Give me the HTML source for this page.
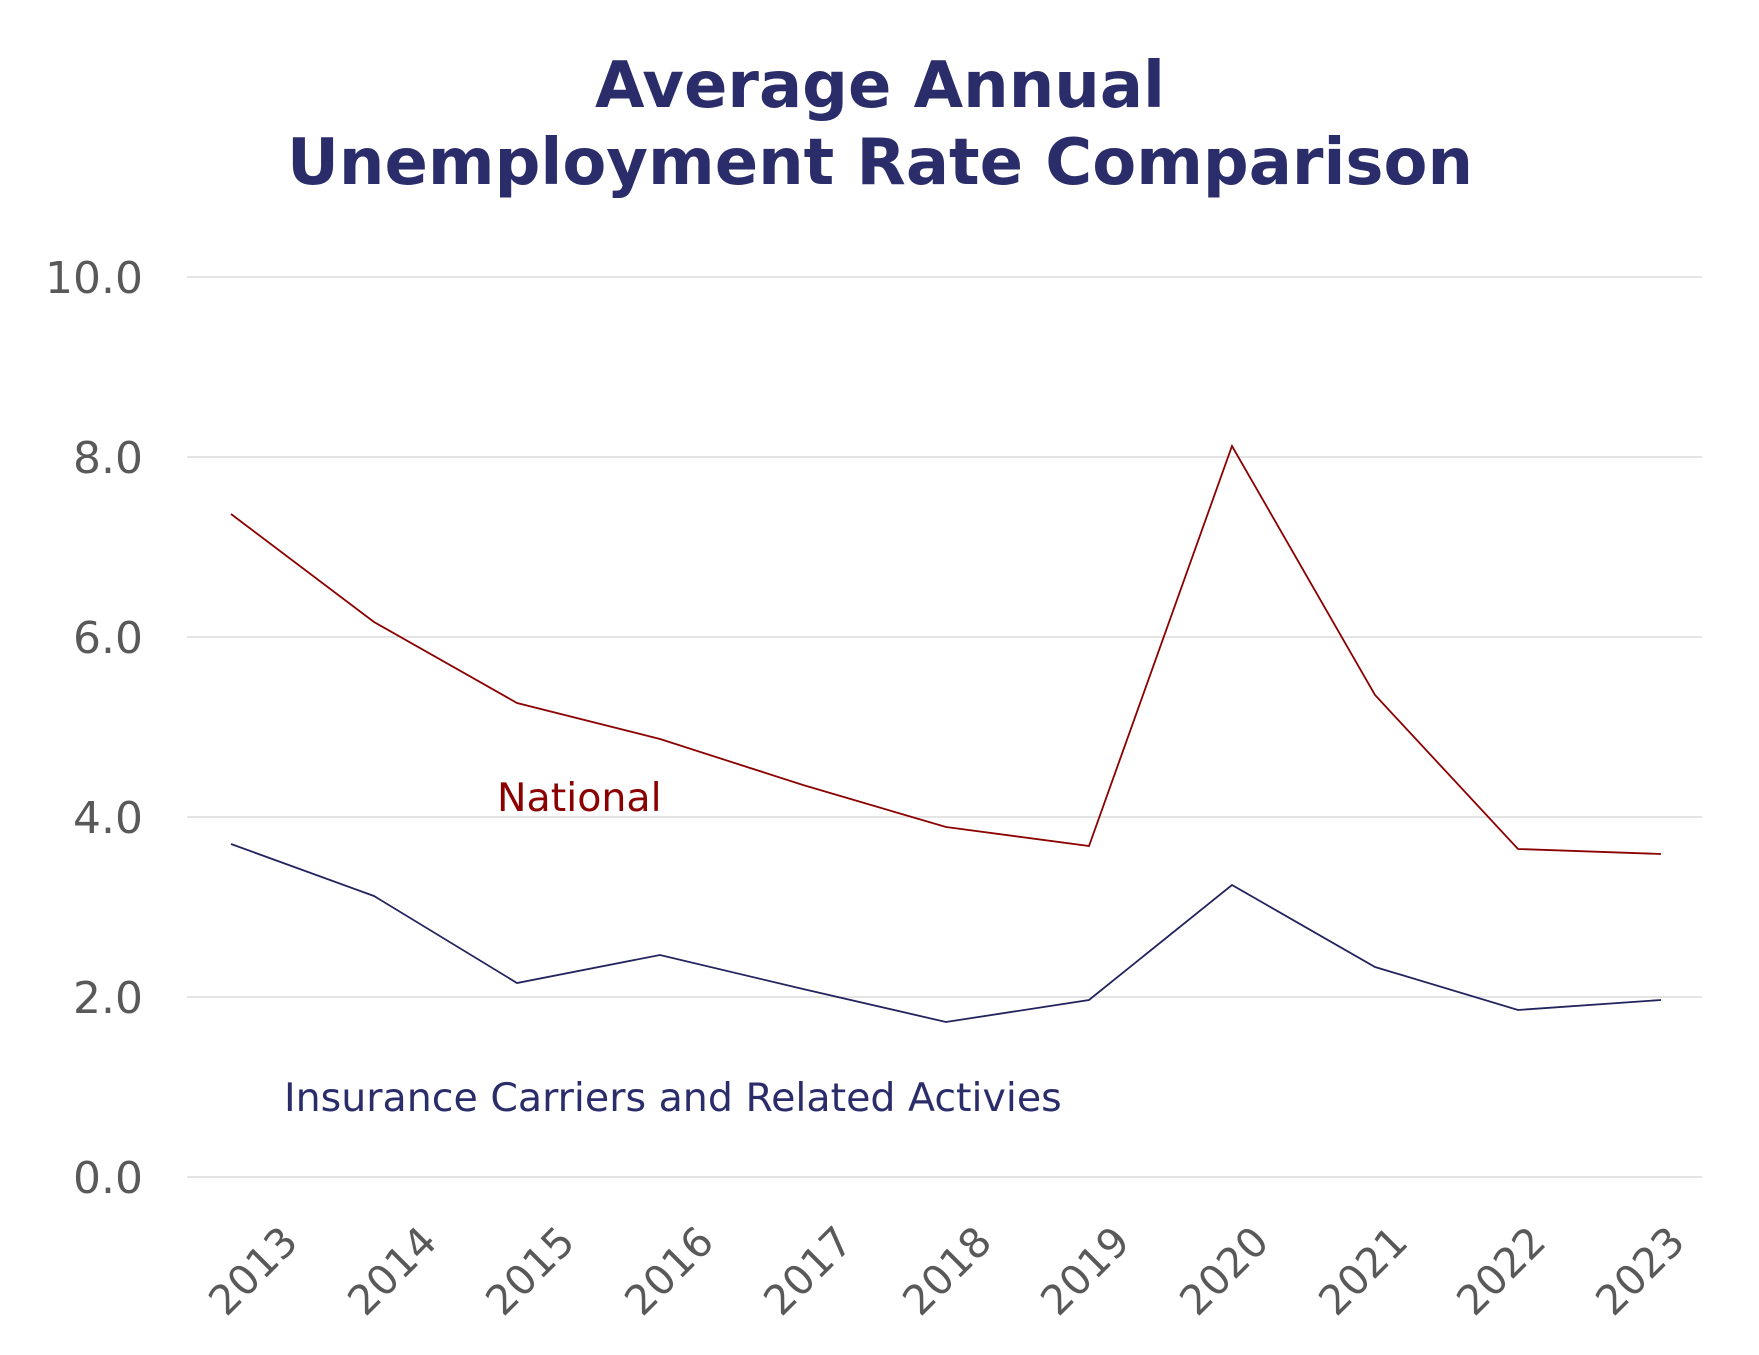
<!DOCTYPE html>
<html><head><meta charset="utf-8"><style>
html,body{margin:0;padding:0;background:#fff;}
svg{display:block;}
</style></head><body>
<svg width="1759" height="1355" viewBox="0 0 1759 1355" xmlns="http://www.w3.org/2000/svg" font-family="'DejaVu Sans', Verdana, sans-serif">
<text x="880" y="107" text-anchor="middle" font-size="64" font-weight="bold" fill="#2b2d6b">Average Annual</text>
<text x="880" y="184" text-anchor="middle" font-size="64" font-weight="bold" fill="#2b2d6b">Unemployment Rate Comparison</text>
<g stroke="#dcdcdc" stroke-width="1.5">
<line x1="187" x2="1702" y1="277" y2="277"/>
<line x1="187" x2="1702" y1="457" y2="457"/>
<line x1="187" x2="1702" y1="637" y2="637"/>
<line x1="187" x2="1702" y1="817" y2="817"/>
<line x1="187" x2="1702" y1="997" y2="997"/>
<line x1="187" x2="1702" y1="1177" y2="1177"/>
</g>
<g font-size="44" fill="#595959" text-anchor="end">
<text x="143" y="293">10.0</text>
<text x="143" y="473">8.0</text>
<text x="143" y="653">6.0</text>
<text x="143" y="833">4.0</text>
<text x="143" y="1013">2.0</text>
<text x="143" y="1193">0.0</text>
</g>
<g font-size="41" fill="#595959" text-anchor="end">
<text transform="translate(300,1244) rotate(-45)">2013</text>
<text transform="translate(439,1244) rotate(-45)">2014</text>
<text transform="translate(577,1244) rotate(-45)">2015</text>
<text transform="translate(716,1244) rotate(-45)">2016</text>
<text transform="translate(855,1244) rotate(-45)">2017</text>
<text transform="translate(994,1244) rotate(-45)">2018</text>
<text transform="translate(1132,1244) rotate(-45)">2019</text>
<text transform="translate(1271,1244) rotate(-45)">2020</text>
<text transform="translate(1410,1244) rotate(-45)">2021</text>
<text transform="translate(1548,1244) rotate(-45)">2022</text>
<text transform="translate(1687,1244) rotate(-45)">2023</text>
</g>
<polyline fill="none" stroke="#8b0000" stroke-width="1.8" points="231,514 374,622 517,703 660,739 803,785 946,827 1089,846 1232,446 1375,695 1518,849 1661,854"/>
<polyline fill="none" stroke="#23235e" stroke-width="1.8" points="231,844 374,896 517,983 660,955 803,989 946,1022 1089,1000 1232,885 1375,967 1518,1010 1661,1000"/>
<text x="497" y="811" font-size="39.5" fill="#8b0000">National</text>
<text x="284" y="1111" font-size="39.5" fill="#2b2d6b">Insurance Carriers and Related Activies</text>
</svg>
</body></html>
